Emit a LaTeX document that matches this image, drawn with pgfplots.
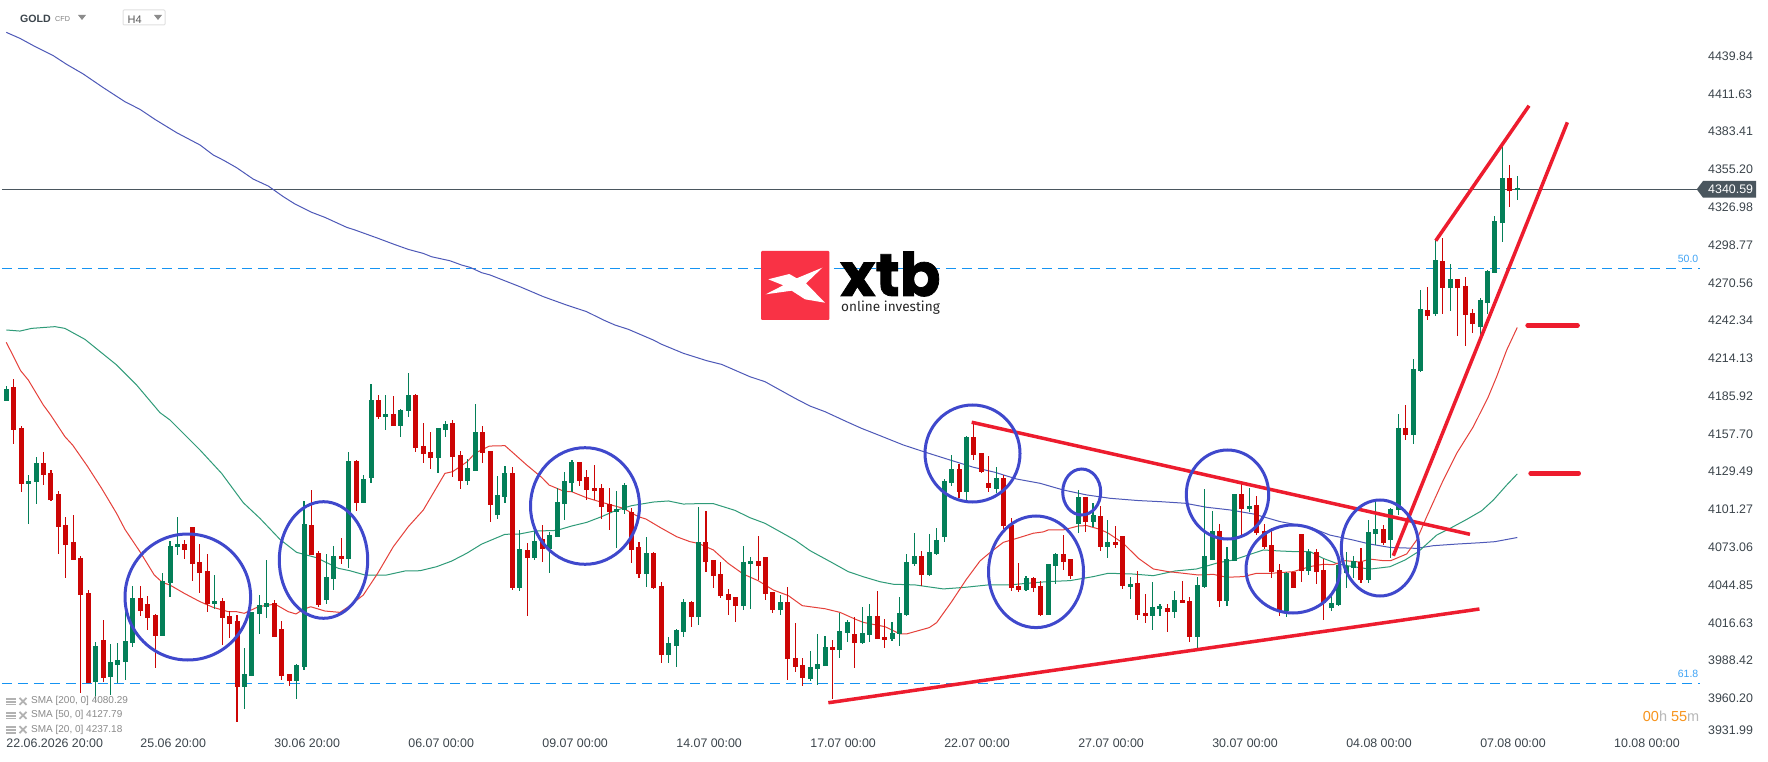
\documentclass[border=0pt]{standalone}
\usepackage{pgfplots}
\usepackage{pgfplotstable}
\pgfplotsset{compat=1.18}
\usepackage{fontspec}
\setmainfont{Liberation Sans}
\newfontfamily\logofont[BoldFeatures={FakeBold=1.2}]{Poppins}
\newfontfamily\logosub{Fira Sans}
\definecolor{cgreen}{HTML}{047F58}
\definecolor{cred}{HTML}{CC0505}
\definecolor{sred}{HTML}{E5403A}
\definecolor{sgreen}{HTML}{2F9B78}
\definecolor{sblue}{HTML}{4E59B8}
\definecolor{trend}{HTML}{ED1C2E}
\definecolor{circ}{HTML}{3F48CC}
\definecolor{fib}{HTML}{1593F2}
\definecolor{fibt}{HTML}{3FA3F5}
\definecolor{pline}{HTML}{4A565E}
\definecolor{ticktxt}{HTML}{3C454C}
\definecolor{legtxt}{HTML}{8A8A8A}
\definecolor{logored}{HTML}{F93245}
\definecolor{timeor}{HTML}{F7941D}
\pgfplotstableread{
i b t h l
0 4182.5 4191.2 4193.5 4182.5
3 4120.5 4122.5 4127 4090.6
4 4122 4135.9 4140.7 4105.6
12 3972.6 3999.2 4002 3958.9
14 3976.1 3987.3 4000.7 3962.6
15 3985.3 3988.8 4001.7 3971.4
16 3987.5 4003 4026.6 3973.8
17 4001.7 4035.1 4044.1 3998.7
21 4007 4047.6 4053.8 4007
22 4046.6 4073.9 4077.7 4036.1
23 4073.4 4075.4 4095.6 4067.2
28 4030.6 4032.9 4052.3 4026.6
32 3968.6 3978.3 3997.8 3952.2
33 3976.8 4024.6 4024.6 3976.8
34 4023.2 4029.9 4037.3 4008.2
35 4028.4 4031.4 4063.5 4020.2
39 3973.1 3985.1 3986.1 3959.7
40 3983.6 4090.4 4107.6 3981.3
43 4033.6 4050.8 4068 4030.6
44 4049.3 4066.5 4073.9 4041.1
46 4064.2 4137.4 4144.2 4057.5
48 4106.1 4124 4127 4106.1
49 4124.7 4183 4195 4121
51 4170.3 4172.6 4186.7 4160.6
53 4163.6 4175.5 4176.3 4155.4
54 4174.8 4186.7 4203.2 4170.3
58 4139.7 4162.1 4162.1 4128.5
59 4160.6 4165.1 4167.3 4155.4
62 4122.5 4132.2 4138.9 4119.5
63 4130 4159.1 4180 4130
66 4097.1 4112 4126.2 4094.1
67 4110.6 4128.5 4133.7 4106.1
69 4042.6 4071.7 4085.9 4040.3
71 4065 4077.7 4085.2 4063.5
73 4071.7 4082.2 4084.4 4053.8
74 4080.7 4106.8 4117.3 4080.7
75 4105.3 4122.5 4129.2 4093.4
76 4121 4136.7 4138.2 4114.3
82 4099.3 4101.6 4115 4072.5
83 4100.8 4119.5 4121 4097.9
86 4053 4068.7 4080.7 4043.3
89 3992.5 4001.5 4006 3986.5
90 3999.3 4011.2 4011.9 3983.6
91 4009.7 4032.1 4034.4 4006
93 4020.9 4076.9 4103.1 4014.9
99 4029.1 4062 4073.9 4026.1
100 4060.5 4062.7 4065.7 4026.9
104 4026.1 4032.1 4037.3 4022.4
108 3974.6 3983.6 3995.5 3973.1
109 3982.1 3985.8 4008.2 3970.1
110 3984.3 3998.5 4006.7 3984.3
112 3996.3 4010.5 4023.9 3990
113 4009 4017.2 4018.7 4002.3
115 4001.5 4009 4028.4 4000.7
116 4007.5 4021.7 4030.6 4002.3
119 4004.5 4009 4017.2 4003
120 4008.3 4024 4035.9 3999.3
121 4022.5 4062 4068 4021.7
122 4060.6 4066.5 4083.7 4059.1
124 4052.3 4069.5 4083 4051.6
125 4068 4078.5 4087.4 4067.3
126 4080.7 4122.6 4124 4077
127 4121.1 4131.5 4142 4118.8
129 4114.3 4155.4 4156.2 4108.4
133 4116.6 4124.8 4133 4113.3
137 4041.1 4050.1 4051.6 4040.4
140 4022.5 4060.6 4060.6 4022.5
141 4059.1 4068 4068.8 4045.6
144 4090.4 4110.6 4115.8 4083.7
146 4091.9 4097.2 4106.1 4088.2
148 4073.3 4077 4093.4 4065
151 4043.4 4045.6 4050.8 4034.4
154 4021.7 4028.4 4047.1 4011.2
155 4026.9 4029.2 4030.7 4021.7
157 4024.7 4033.7 4040.4 4020.2
160 4006 4044.9 4050.8 3997.1
161 4043.4 4066.5 4116.6 4042.6
162 4063.5 4085.2 4100.1 4063.5
164 4032.9 4064.3 4073.3 4029.2
165 4062.8 4112.8 4112.8 4062.8
167 4101.6 4103.9 4117.3 4099.4
172 4025.4 4053.8 4054.6 4021
175 4055.3 4069.5 4071.8 4052.3
178 4027.4 4031.4 4036.6 4025.4
179 4029.9 4059.8 4063.5 4029.2
180 4053.8 4059 4069.5 4042.6
181 4057.5 4062.8 4066.5 4050
183 4048.6 4084.5 4093.4 4046.4
184 4082.9 4086.7 4106.8 4074.7
186 4078.4 4101.5 4102.3 4065
187 4100.8 4162 4172.5 4097
189 4156.8 4206.1 4213.3 4150.1
190 4204.6 4250.9 4265.1 4203.8
192 4247.2 4287.5 4302.5 4245.7
194 4266.6 4273.4 4284.6 4249.5
198 4237.5 4257.7 4259.2 4231.5
199 4255.4 4279.4 4280 4247.2
200 4277.9 4316.7 4320.4 4277.9
201 4315.2 4348.8 4372.7 4301
203 4339.6 4341 4350.3 4332.3
}\greencandles
\pgfplotstableread{
i b t h l
1 4160.8 4192.5 4198.4 4150.1
2 4120.5 4162.1 4163.3 4114.3
5 4127.2 4135.9 4144.2 4119.8
6 4108.3 4128.5 4130.7 4107.6
7 4088.4 4112.8 4114.8 4068.2
8 4074.7 4089.6 4095.6 4050
9 4063.7 4076.9 4097.1 4063.7
10 4037.3 4065 4066.2 3964.4
11 3971.6 4038.8 4041.1 3971.6
13 3975.3 4003.7 4018.7 3972.6
18 4025.4 4035.1 4044.1 4021.7
19 4020.2 4030.6 4036.6 4011.2
20 4007 4022.4 4022.9 3983.1
24 4071 4075.4 4078.4 4064.5
25 4060.5 4088.1 4088.1 4048.1
26 4053.8 4062 4075.4 4038.8
27 4030.4 4055.3 4068 4024.6
29 4020.2 4032.9 4035.1 4000
30 4015.7 4021.9 4025.1 4005.3
31 3968.6 4017.9 4022.4 3942.7
36 4006 4031.4 4033.4 4006
37 3976.8 4011.9 4017.9 3973.8
38 3973.1 3978.3 3978.3 3969.4
41 4067.2 4089.6 4115.8 4067.2
42 4029.9 4068.7 4070.2 4028.4
45 4064 4066.5 4079.9 4060.5
47 4106.1 4137.4 4138.2 4100.1
50 4170.3 4183 4186.7 4168.8
52 4163.6 4172.6 4186 4163.6
55 4147.2 4186.7 4187.5 4144.2
56 4142.7 4148.6 4165.8 4135.7
57 4139.7 4144.2 4159.1 4131.5
60 4140.4 4165.8 4168.1 4125.5
61 4122.5 4141.9 4144.9 4116.5
64 4143.4 4159.1 4163.6 4135.9
65 4104.6 4144.9 4144.9 4091.9
68 4042.6 4128.5 4133 4041.1
70 4065 4071 4076.2 4021.7
72 4071.7 4079.2 4089.6 4062
77 4122.5 4136.7 4136.7 4118.8
78 4115.8 4125.5 4130.7 4108.3
79 4115 4117.3 4134.5 4108.3
80 4103.1 4117.3 4120.3 4094.1
81 4099.3 4105.3 4117.3 4085.9
84 4071 4099.3 4102.3 4061.3
85 4053 4073.2 4076.9 4050
87 4042.6 4068.7 4069.5 4041.8
88 3992.5 4044.1 4047.1 3986.5
92 4020.9 4032.1 4032.9 4013.4
94 4062 4076.9 4100.1 4054.5
95 4051.5 4063.5 4063.5 4042.6
96 4036.6 4053 4062 4035.1
97 4033.6 4038.1 4041.8 4022.4
98 4029.1 4035.9 4035.9 4017.2
101 4059 4062.7 4081.4 4048.5
102 4038.1 4065.7 4065.7 4033.6
103 4026.1 4039.6 4039.6 4023.9
105 3989.5 4032.1 4043.3 3973.8
106 3983.6 3990.3 4016.4 3979.8
107 3975.3 3985.1 3990.3 3969.4
111 3996.3 3998.5 4003.7 3959.7
114 4001.5 4008.2 4020.9 3982.8
117 4004.5 4021.7 4040.3 4004.5
118 4003.8 4006 4019.5 3997.8
123 4052.3 4066.5 4070.3 4044.1
128 4114.3 4131.5 4135.3 4109.9
130 4142 4155.4 4166.6 4138.2
131 4129.3 4143.5 4143.5 4128.5
132 4117.3 4121.1 4141.2 4114.3
134 4088.9 4124.8 4127 4086.7
135 4042.6 4089.7 4094.9 4040.4
136 4041.1 4044.1 4061.3 4039.6
138 4042.6 4050.1 4050.8 4039.6
139 4022.5 4044.1 4047.9 4021.7
142 4062 4068 4082.2 4056.1
143 4051.6 4064.3 4064.3 4049.3
145 4091.9 4110.6 4110.6 4084.5
147 4073.3 4096.4 4103.9 4070.3
149 4074.7 4077 4088.9 4072.5
150 4044.1 4081.5 4081.5 4041.9
152 4022.5 4046.4 4055.3 4018.7
153 4021.7 4024 4038.1 4016.5
156 4024.7 4027.7 4030.7 4009.8
158 4031.4 4033.7 4047.9 4031.4
159 4006 4032.9 4035.9 4002.3
163 4032.9 4085.2 4090.4 4028.4
166 4101.6 4112.8 4120.3 4082.2
168 4083.7 4104.6 4111.3 4082.2
169 4073.3 4085.2 4090.4 4071.8
170 4054.6 4074.7 4087.4 4050.1
171 4026.2 4056.1 4060.6 4021.7
173 4042.6 4054.6 4054.6 4042.6
174 4055.3 4083 4083 4047.1
176 4054.5 4069.5 4071.7 4045.5
177 4031.6 4056 4064.2 4018.6
182 4048.6 4062 4072.5 4046.4
185 4076.2 4086.7 4089.7 4074.7
188 4156.8 4162 4179.2 4153
191 4245.7 4250.2 4267.4 4242.7
193 4266.6 4286.8 4303.9 4247.2
195 4266.6 4273.4 4273.6 4230.8
196 4246.5 4268.2 4274.9 4223.4
197 4239.8 4248 4250.9 4233
202 4339.1 4348.8 4358.5 4327.1
}\redcandles
\begin{document}
\begin{tikzpicture}[x=1pt,y=1pt]
\useasboundingbox (0,0) rectangle (1768,761);
\fill[white] (0,0) rectangle (1768,761);
\begin{axis}[
  anchor=south west, at={(0pt,29pt)},
  width=1700pt, height=732pt, scale only axis,
  xmin=-0.846, xmax=227.55, ymin=3935.04, ymax=4481.77,
  axis line style={draw=none}, tick style={draw=none},
  xtick={0,18,36,54,72,90,108,126,144,162,180,198,216},
  xticklabels={22.06.2026 20:00,25.06 20:00,30.06 20:00,06.07 00:00,09.07 00:00,14.07 00:00,17.07 00:00,22.07 00:00,27.07 00:00,30.07 00:00,04.08 00:00,07.08 00:00,10.08 00:00},
  xticklabel style={anchor=north west, inner sep=0pt, yshift=-7pt, font=\fontsize{12.4}{14}\selectfont, text=ticktxt},
  ytick={3936,3960.20,3988.42,4016.63,4044.85,4073.06,4101.27,4129.49,4157.70,4185.92,4214.13,4242.34,4270.56,4298.77,4326.98,4355.20,4383.41,4411.63,4439.84},
  yticklabels={3931.99,3960.20,3988.42,4016.63,4044.85,4073.06,4101.27,4129.49,4157.70,4185.92,4214.13,4242.34,4270.56,4298.77,4326.98,4355.20,4383.41,4411.63,4439.84},
  ytick pos=right, yticklabel pos=right,
  yticklabel style={anchor=west, inner sep=0pt, xshift=8pt, font=\fontsize{12.4}{14}\selectfont, text=ticktxt},
  clip=false,
]
% Fibonacci levels and last price
\addplot[fib, line width=1pt, dash pattern=on 10pt off 6pt, forget plot] coordinates {(-0.58,4281.35) (227.5,4281.35)};
\addplot[fib, line width=1pt, dash pattern=on 10pt off 6pt, forget plot] coordinates {(-0.58,3971.4) (227.5,3971.4)};
\addplot[pline, line width=1pt, forget plot] coordinates {(-0.58,4340.59) (227.5,4340.59)};
% SMA 200
\addplot[sblue, line width=1pt, line join=round, forget plot] coordinates {
(0,4457.6)(1.84,4453.1)(3.63,4447.7)(6.31,4440.2)(8.11,4433.7)(10.34,4426.5)(13.03,4416.3)(15.94,4405.8)(17.96,4400.1)(19.97,4392.6)(22.88,4382.7)(26.02,4373.5)(27.81,4366)(29.15,4362.2)(30.95,4356.5)(33.18,4348)(35.2,4342.8)(37.21,4334.9)(38.78,4329.4)(41.02,4323.2)(42.81,4319.4)(45.72,4312)(46.84,4310)(49.98,4303.7)(51.99,4299.5)(54.01,4295.5)(56.02,4292.5)(57.14,4290)(59.61,4287)(61.18,4283.8)(62.3,4282.1)(63.87,4278.1)(64.99,4276.4)(69.02,4267.6)(72.15,4260.2)(75.29,4253.9)(77.97,4249)(80.21,4242.8)(81.78,4239)(83.57,4235.8)(86.93,4227.8)(88.05,4224.6)(90.96,4217.9)(94.09,4212.4)(96.11,4209.6)(99.91,4200.4)(101.93,4196.7)(105.96,4184.3)(107.98,4178.5)(109.99,4174.3)(112.91,4166.8)(114.92,4161.8)(117.38,4156.4)(120.52,4149.4)(123.65,4143.7)(126.79,4138.2)(129.92,4132.8)(132.83,4129)(135.74,4124)(138.88,4120.8)(142.01,4115.8)(145.15,4112.1)(148.28,4109.6)(152.09,4107.9)(155,4107.1)(158.36,4105.9)(161.27,4102.9)(164.4,4100.9)(167.54,4097.9)(171.12,4092.2)(175.15,4088)(177.84,4082.1)(180.97,4078.4)(183.21,4075.4)(185.9,4072.9)(189.48,4072.2)(191.72,4074.2)(194.85,4075.4)(197.99,4076.4)(200,4077.2)(203,4080.3)};
% SMA 50
\addplot[sgreen, line width=1pt, line join=round, forget plot] coordinates {
(0,4235.3)(1.84,4234.5)(3.4,4236.5)(6.54,4237.8)(7.88,4236.5)(10.57,4228.3)(14.82,4209.2)(17.51,4194.2)(20.64,4173.6)(21.99,4168.1)(26.02,4145.7)(28.93,4128.2)(31.84,4106.3)(34.08,4094.6)(36.77,4078.9)(39.01,4069.2)(41.69,4065.2)(44.6,4057.3)(46.17,4055.5)(48.19,4052.3)(51.1,4052.3)(53.56,4055.3)(55.58,4055.5)(57.81,4058.5)(59.83,4062.7)(61.85,4068.5)(63.87,4075.4)(67,4082.7)(68.92,4082.9)(70.94,4085.1)(73.94,4085.6)(75.96,4088.9)(77.97,4091.6)(79.99,4095.9)(82,4100.8)(84.02,4104.1)(86.93,4106.8)(88.95,4107.6)(90.96,4105.3)(92.98,4105.6)(95,4105.6)(97.89,4100.6)(99.91,4095.1)(101.93,4090.9)(103.94,4084.7)(105.96,4078.4)(107.98,4070.5)(110.89,4061.7)(113.12,4054.8)(115.14,4051)(117.38,4047.3)(119.17,4045.4)(122.08,4044.9)(125.89,4041.9)(128.8,4043.1)(131.93,4044.9)(134.85,4044.9)(137.09,4046.1)(140,4047.4)(142.91,4048.1)(146.04,4051.1)(148.06,4053.6)(151.19,4053.1)(154.11,4051.8)(157.02,4055.3)(159.92,4056.8)(162.83,4061.5)(164.85,4063.5)(166.87,4067.3)(168.88,4071)(170.9,4070.3)(172.91,4069.8)(175.15,4069.8)(176.94,4064.7)(178.95,4060.5)(180.97,4058.5)(183.21,4056.7)(185.9,4058.5)(187.92,4063.5)(189.71,4069.7)(192.17,4082.1)(193.96,4087.1)(196.2,4093.8)(198.22,4100.3)(199.79,4108.3)(201.58,4119.5)(203,4127.79)};
% SMA 20
\addplot[sred, line width=1pt, line join=round, forget plot] coordinates {
(0,4226.1)(1.93,4204.9)(2.96,4197.9)(4.97,4179.3)(5.96,4171.8)(7.88,4155.6)(8.91,4149.4)(10.88,4133.7)(12.81,4117)(14.82,4098.3)(15.94,4086.4)(17.96,4069.7)(19.88,4052.3)(20.96,4046.8)(21.99,4044.8)(23.91,4038.6)(26.02,4032.4)(27.81,4028.1)(29.83,4024.9)(30.95,4024.9)(31.97,4023.7)(33.86,4028.6)(36.09,4030.6)(37.89,4024.9)(38.92,4023.2)(39.9,4026.6)(40.89,4028.6)(42.81,4025.4)(44.83,4024.4)(45.95,4028.6)(47.96,4037.3)(49.89,4053.5)(51.99,4073.4)(54.01,4088.4)(56.02,4100.8)(58.93,4128.2)(59.97,4129.5)(61.94,4137)(62.97,4143.2)(64.89,4148.6)(67,4148.9)(69.91,4134.5)(71.93,4125.2)(72.92,4119.5)(74.93,4114.8)(75.96,4114.5)(77.97,4110)(79.99,4106.6)(82.9,4102.1)(84.91,4095.9)(85.94,4094.1)(87.91,4087.6)(90.07,4080.9)(91.85,4077.2)(92.98,4075.9)(95,4071)(96.99,4061)(99.02,4053)(101.03,4048)(103.05,4041.1)(105.07,4036.9)(106.94,4029.4)(110,4027.1)(112.01,4024.4)(114.02,4019.4)(115.14,4016.9)(118.05,4013.7)(120.07,4008.3)(120.96,4008.3)(124,4013)(124.99,4016.7)(127.01,4032.4)(128.93,4048.6)(130.82,4062.8)(131.93,4068)(133.95,4076.7)(135.96,4080)(137.98,4083.5)(139.32,4084.5)(140,4086)(142.01,4086)(144.03,4088.9)(145.15,4089.2)(146.94,4086.4)(148.06,4083.5)(150.07,4076)(152.09,4064.8)(154.11,4056.8)(156.12,4054.8)(158.13,4053.6)(160.15,4052.3)(162.16,4052.8)(163.96,4050.6)(166.2,4051.1)(167.99,4053.6)(170,4053.6)(172.91,4054.8)(175.15,4058.6)(176.94,4060.3)(178.28,4060)(179.85,4063)(181.87,4062)(183.21,4064.2)(185,4063)(186,4063)(188.14,4068)(189.48,4078.4)(190.83,4095.8)(193.06,4123.2)(194.85,4143.1)(197.09,4163)(199.11,4185.4)(200.23,4200.4)(201.58,4220.3)(203,4237.18)};
% candle wicks
\addplot[draw=none, no markers, forget plot, error bars/.cd, y dir=both, y explicit, error mark=none, error bar style={draw=cgreen, line width=1.1pt}]
  table[x=i, y=b, y error plus expr=\thisrow{h}-\thisrow{b}, y error minus expr=\thisrow{b}-\thisrow{l}] {\greencandles};
\addplot[draw=none, no markers, forget plot, error bars/.cd, y dir=both, y explicit, error mark=none, error bar style={draw=cred, line width=1.1pt}]
  table[x=i, y=b, y error plus expr=\thisrow{h}-\thisrow{b}, y error minus expr=\thisrow{b}-\thisrow{l}] {\redcandles};
% candle bodies
\addplot[draw=none, no markers, forget plot, error bars/.cd, y dir=plus, y explicit, error mark=none, error bar style={draw=cgreen, line width=5pt}]
  table[x=i, y=b, y error plus expr=\thisrow{t}-\thisrow{b}] {\greencandles};
\addplot[draw=none, no markers, forget plot, error bars/.cd, y dir=plus, y explicit, error mark=none, error bar style={draw=cred, line width=5pt}]
  table[x=i, y=b, y error plus expr=\thisrow{t}-\thisrow{b}] {\redcandles};
% drawn trend lines
\addplot[trend, line width=3.5pt, forget plot] coordinates {(129.7,4166.4)(196.65,4082.7)};
\addplot[trend, line width=3.5pt, forget plot] coordinates {(110.44,3956.9)(197.92,4026.9)};
\addplot[trend, line width=3.5pt, forget plot] coordinates {(192.05,4302)(204.58,4402.8)};
\addplot[trend, line width=3.5pt, forget plot] coordinates {(186.35,4066.7)(209.73,4390.4)};
\addplot[trend, line width=4.6pt, line cap=round, forget plot] coordinates {(204.4,4238.8)(211.1,4238.8)};
\addplot[trend, line width=4.6pt, line cap=round, forget plot] coordinates {(204.8,4128.3)(211.25,4128.3)};
\end{axis}
% circles drawn on the chart
\begin{scope}[circ, line width=3pt]
\draw (187.8,164) ellipse [x radius=62.8, y radius=63];
\draw (323.5,201) ellipse [x radius=44.2, y radius=58.3];
\draw (585,255) ellipse [x radius=54.5, y radius=58.3];
\draw (972.5,307.5) ellipse [x radius=47.5, y radius=48.5];
\draw (1036,189.2) ellipse [x radius=47.5, y radius=55.8];
\draw (1081.7,269) ellipse [x radius=19, y radius=23];
\draw (1227.5,266.5) ellipse [x radius=41.2, y radius=44.5];
\draw (1293,192) ellipse [x radius=47, y radius=44];
\draw (1380,213) ellipse [x radius=38.7, y radius=48];
\end{scope}
% last price tag
\fill[pline] (1696.7,571.7) -- (1703,580) -- (1756,580) -- (1756,563.3) -- (1703,563.3) -- cycle;
\node[anchor=west, inner sep=0pt, text=white, font=\fontsize{12.4}{14}\selectfont] at (1708,571.5) {4340.59};
% fibo labels
\node[anchor=east, inner sep=0pt, text=fibt, font=\fontsize{10.5}{12}\selectfont] at (1698.5,501.7) {50.0};
\node[anchor=east, inner sep=0pt, text=fibt, font=\fontsize{10.5}{12}\selectfont] at (1698.5,87) {61.8};
% countdown
\node[anchor=east, inner sep=0pt, font=\fontsize{14.5}{16}\selectfont] at (1699.5,45) {\textcolor{timeor}{00}\textcolor{black!28}{h} \textcolor{timeor}{55}\textcolor{black!28}{m}};
% header
\node[anchor=west, inner sep=0pt, text=ticktxt, font=\bfseries\fontsize{10.6}{13}\selectfont] at (20,742.5) {GOLD};
\node[anchor=west, inner sep=0pt, text=black!50, font=\fontsize{7.2}{9}\selectfont] at (55,742) {CFD};
\fill[black!45] (78,746) -- (86,746) -- (82,741) -- cycle;
\draw[black!12, line width=1pt, rounded corners=1pt] (123,736) rectangle (165,751);
\node[anchor=west, inner sep=0pt, text=black!65, font=\fontsize{11}{13}\selectfont] at (127.5,741.5) {H4};
\fill[black!45] (154,746) -- (162,746) -- (158,741) -- cycle;
% logo
\fill[logored, rounded corners=1pt] (761,441) rectangle (829.3,510);
\fill[white] (768.3,481.7) -- (789.3,487) -- (796.7,482.7) -- (822.3,493.3) -- (806,477.7) -- (825,458.3) -- (805,461.7) -- (791.7,470.3) -- (765.7,466.7) -- (783.3,475.7) -- cycle;
\node[anchor=base west, inner sep=0pt, font=\logofont\bfseries\fontsize{60}{62}\selectfont] at (840,465) {xtb};
\node[anchor=base west, inner sep=0pt, text=black!85, font=\logosub\fontsize{13.6}{15}\selectfont] at (841,449) {online investing};
% SMA legend
\foreach \yy/\txt in {59.7/{SMA [200, 0] 4080.29},45.7/{SMA [50, 0] 4127.79},31.3/{SMA [20, 0] 4237.18}}{
  \fill[black!30] (6,\yy+3.5) rectangle (16,\yy+1.3);
  \fill[black!30] (6,\yy+0.5) rectangle (16,\yy-1.2);
  \fill[black!30] (6,\yy-2.5) rectangle (16,\yy-4);
  \draw[black!30, line width=1.8pt] (19.5,\yy+3.5) -- (26.5,\yy-3.5) (19.5,\yy-3.5) -- (26.5,\yy+3.5);
  \node[anchor=west, inner sep=0pt, text=legtxt, font=\fontsize{10}{12}\selectfont] at (31,\yy) {\txt};
}
\end{tikzpicture}
\end{document}
